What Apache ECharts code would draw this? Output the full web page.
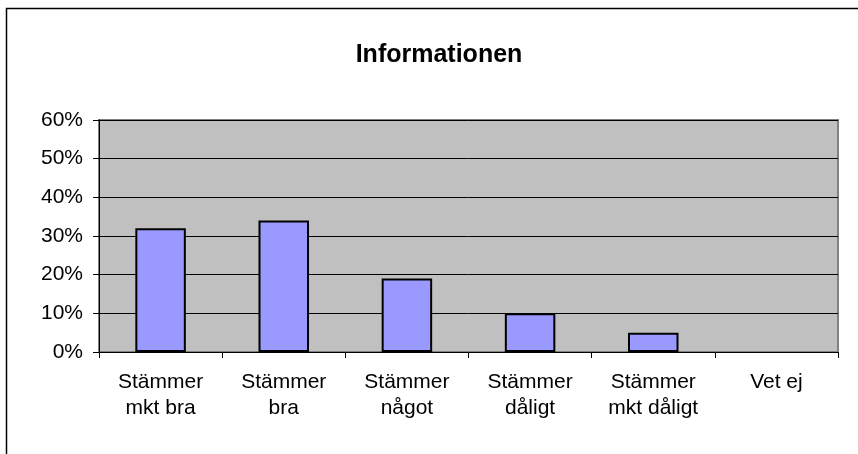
<!DOCTYPE html>
<html>
<head>
<meta charset="utf-8">
<script src="https://cdn.jsdelivr.net/npm/echarts@6/dist/echarts.min.js"></script>
<style>
  html, body { margin: 0; padding: 0; background: #fff; }
  #chart { width: 858px; height: 454px; }
</style>
</head>
<body>
<div id="chart"></div>
<script>
var chartTitle = 'Informationen';
var categories = ['Stämmer\nmkt bra', 'Stämmer\nbra', 'Stämmer\nnågot', 'Stämmer\ndåligt', 'Stämmer\nmkt dåligt', 'Vet ej'];
var shares = [32, 34, 19, 10, 5, 0];   // percent
var yTicks = [0, 10, 20, 30, 40, 50, 60];

var font = 'Arial, "Liberation Sans", sans-serif';

// zero-height bars get no outline (Excel draws nothing there)
var barData = shares.map(function (v) {
    return v === 0 ? { value: v, itemStyle: { borderWidth: 0, opacity: 0 } } : v;
});

var chart = echarts.init(document.getElementById('chart'), null, { renderer: 'canvas' });
var option = {
    backgroundColor: '#fff',
    animation: false,
    title: {
        text: chartTitle,
        left: 434,
        top: 38,
        textAlign: 'center',
        textStyle: { fontFamily: font, fontSize: 25, fontWeight: 'bold', color: '#000' }
    },
    graphic: [{
        type: 'rect',
        shape: { x: 6.5, y: 8.5, width: 900, height: 500 },
        style: { fill: 'none', stroke: '#000', lineWidth: 1.5 },
        z: 100
    }],
    grid: {
        left: 99, top: 120, right: 20, bottom: 102,
        show: true,
        backgroundColor: '#C0C0C0',
        borderColor: '#808080',
        borderWidth: 2
    },
    xAxis: {
        type: 'category',
        data: categories,
        axisLine: { lineStyle: { color: '#000', width: 1 } },
        axisTick: { show: true, length: 6, lineStyle: { color: '#000' } },
        axisLabel: {
            margin: 17,
            fontFamily: font,
            fontSize: 21,
            lineHeight: 26,
            color: '#000',
            interval: 0
        }
    },
    yAxis: {
        type: 'value',
        min: yTicks[0],
        max: yTicks[yTicks.length - 1],
        interval: 10,
        axisLine: { show: true, lineStyle: { color: '#000', width: 1 } },
        axisTick: { show: true, length: 6, lineStyle: { color: '#000' } },
        splitLine: { lineStyle: { color: '#000', width: 1 } },
        axisLabel: {
            margin: 16,
            fontFamily: font,
            fontSize: 21,
            color: '#000',
            formatter: '{value}%'
        }
    },
    series: [{
        type: 'bar',
        data: barData,
        barWidth: '41%',
        itemStyle: { color: '#9999FF', borderColor: '#000', borderWidth: 2 }
    }]
};
chart.setOption(option);
</script>
</body>
</html>
